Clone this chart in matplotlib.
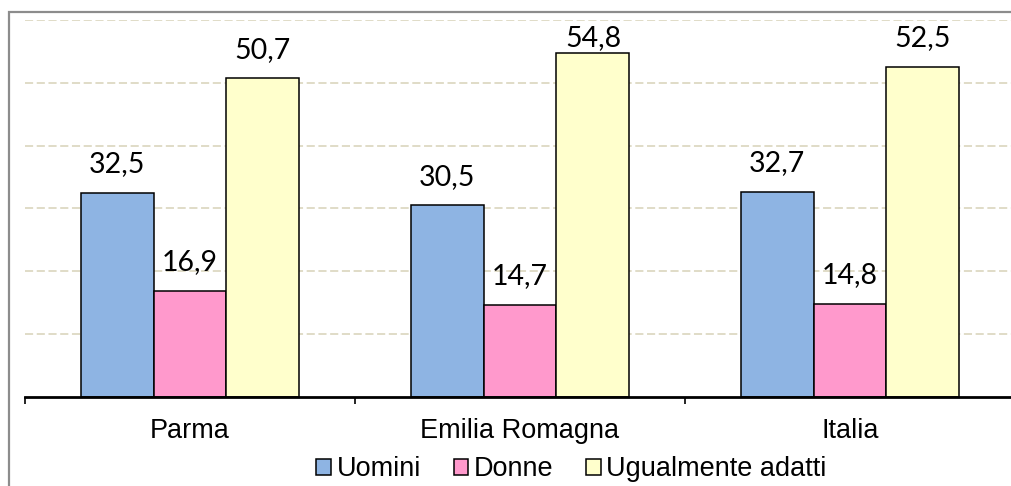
import numpy as np
import matplotlib
matplotlib.use("Agg")
import matplotlib.pyplot as plt
from matplotlib.patches import Rectangle

categories = ["Parma", "Emilia Romagna", "Italia"]
series_names = ["Uomini", "Donne", "Ugualmente adatti"]
uomini = [32.5, 30.5, 32.7]
donne = [16.9, 14.7, 14.8]
ugualmente = [50.7, 54.8, 52.5]
colors = ["#8EB4E3", "#FF99CC", "#FFFFCC"]

W, H = 1011, 486
fig = plt.figure(figsize=(W / 100, H / 100), dpi=100)

# outer chart frame (cropped at right/bottom)
fig.patches.append(Rectangle((9 / W, -0.1), 1.2, 1.1 - 12 / H,
                             transform=fig.transFigure, fill=False,
                             edgecolor="#8c8c8c", linewidth=1.6, zorder=0))

ax = fig.add_axes([25 / W, 89 / H, 990 / W, 377 / H])
ax.set_facecolor("none")

ymax = 60
x = np.arange(len(categories))
bw = 0.221
series = [uomini, donne, ugualmente]
for i, (vals, col, name) in enumerate(zip(series, colors, series_names)):
    bars = ax.bar(x + (i - 1) * bw, vals, bw, color=col, edgecolor="black",
                  linewidth=1.1, label=name, zorder=3)
    for b, v in zip(bars, vals):
        # excel pushes labels down when they would leave the plot area
        ty = min(v + 3.3, ymax - 4.1)
        ax.text(b.get_x() + b.get_width() / 2, ty,
                f"{v:.1f}".replace(".", ","),
                ha="center", va="baseline", fontsize=20.5, family="Lato",
                color="black", zorder=4)

ax.set_ylim(0, ymax)
ax.set_xlim(-0.5, 2.5)
ax.set_yticks(np.arange(10, 61, 10))
ax.yaxis.grid(True, color="#ddd9c3", linestyle=(0, (4.5, 2)), linewidth=1.3, zorder=0)
ax.tick_params(axis="y", left=False, labelleft=False)
for s in ["left", "right", "top"]:
    ax.spines[s].set_visible(False)
ax.spines["bottom"].set_linewidth(2.0)
ax.spines["bottom"].set_zorder(5)

ax.set_xticks(x)
ax.set_xticklabels(categories, fontsize=19.5, family="Liberation Sans")
ax.set_xticks([-0.5, 0.5, 1.5, 2.5], minor=True)
ax.tick_params(axis="x", which="major", length=0, pad=15)
ax.tick_params(axis="x", which="minor", length=5, width=1.2, direction="out")

leg = ax.legend(loc="center", bbox_to_anchor=(0.552, -0.192), ncol=3,
                frameon=False, prop={"family": "Liberation Sans", "size": 19.5},
                handlelength=0.55, handleheight=0.55, handletextpad=0.2,
                columnspacing=1.2, borderaxespad=0)

fig.savefig("out.png", dpi=100)
